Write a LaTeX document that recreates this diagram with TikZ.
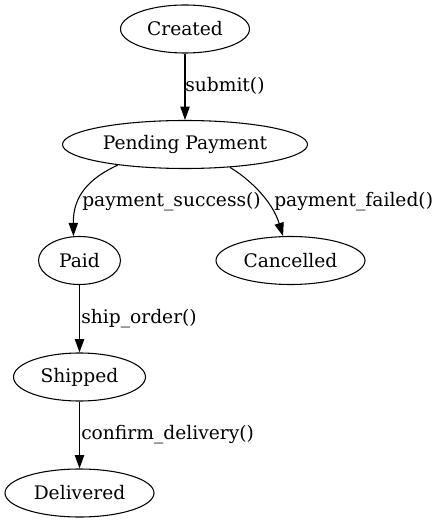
\documentclass[tikz,border=0pt]{standalone}
\usepackage{fontspec}
\setmainfont{DejaVu Serif}
\usetikzlibrary{shapes.geometric,arrows.meta}
\begin{document}
\begin{tikzpicture}[x=0.75pt,y=-0.75pt,
  state/.style={draw,ellipse,line width=0.8pt,inner sep=0pt,minimum height=36pt,font=\fontsize{14}{16}\selectfont},
  tr/.style={draw,line width=0.8pt,-{Triangle[length=10pt,width=7pt]}},
  lbl/.style={anchor=west,inner sep=0pt,font=\fontsize{14}{16}\selectfont}]
\path[use as bounding box] (0,0) rectangle (439,523);
\node[state,minimum width=96.75pt] (cr) at (185,29) {Created};
\node[state,minimum width=183.75pt] (pp) at (185,144.5) {Pending Payment};
\node[state,minimum width=61.5pt] (pd) at (79.5,260.5) {Paid};
\node[state,minimum width=111.75pt] (cn) at (290.5,260.5) {Cancelled};
\node[state,minimum width=99pt] (sh) at (79.5,377) {Shipped};
\node[state,minimum width=111.75pt] (dl) at (79.5,493) {Delivered};
\draw[tr] (cr) -- (pp);
\draw[tr] (pp.197) .. controls (90,178) and (73,195) .. (pd.104);
\draw[tr] (pp.333) .. controls (248,178) and (272,200) .. (cn.107);
\draw[tr] (pd) -- (sh);
\draw[tr] (sh) -- (dl);
\node[lbl] (l1) at (185,86) {submit()};
\node[lbl] (l2) at (82,202) {payment\_success()};
\node[lbl] (l3) at (274,202) {payment\_failed()};
\node[lbl] (l4) at (81,319) {ship\_order()};
\node[lbl] (l5) at (81,435) {confirm\_delivery()};
\end{tikzpicture}
\end{document}
